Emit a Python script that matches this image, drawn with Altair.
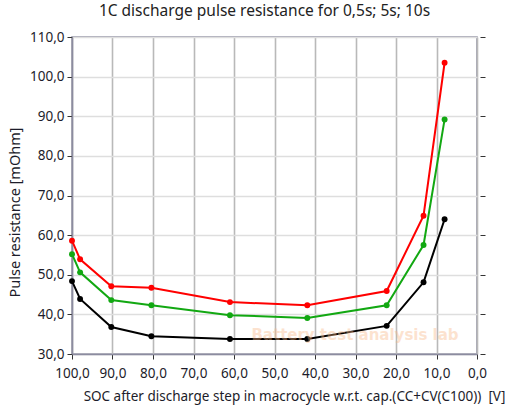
import altair as alt
import pandas as pd

# State of charge after each discharge step [%]
soc = [100.0, 98.0, 90.3, 80.4, 61.0, 41.9, 22.3, 13.2, 8.0]

# 1C discharge pulse resistance [mOhm] for three pulse durations
r_10s = [58.6, 53.9, 47.1, 46.7, 43.1, 42.3, 45.9, 64.9, 103.5]
r_5s = [55.2, 50.6, 43.6, 42.3, 39.8, 39.1, 42.3, 57.5, 89.2]
r_05s = [48.4, 43.9, 36.8, 34.5, 33.8, 33.8, 37.1, 48.1, 64.0]

series_names = ["10s", "5s", "0,5s"]
series_colors = ["#ff0000", "#12a812", "#000000"]

rows = []
for name, values in zip(series_names, [r_10s, r_5s, r_05s]):
    for s, r in zip(soc, values):
        rows.append({"soc": s, "r": r, "pulse": name})
df = pd.DataFrame(rows)

FONT = "Noto Sans"
TXT = "#1c1c2a"
comma_fmt = "replace(format(datum.value, '.1f'), '.', ',')"

x_enc = alt.X(
    "soc:Q",
    scale=alt.Scale(domain=[100, 0], nice=False),
    axis=alt.Axis(
        values=list(range(0, 101, 10)),
        labelExpr=comma_fmt,
        labelOverlap=False,
        labelFlush=False,
        title="SOC after discharge step in macrocycle w.r.t. cap.(CC+CV(C100))\u00a0\u00a0[V]",
        titleX=222,
        titleY=35,
        titleFontWeight="normal",
        titleFontSize=13.5,
        titleFont=FONT,
        titleColor=TXT,
        labelFont=FONT,
        labelFontSize=13.5,
        labelColor=TXT,
        labelPadding=7,
        grid=True,
        gridColor="#b9b9b9",
        gridWidth=1.6,
        domainColor="#8c8ca0",
        domainWidth=1.5,
        tickColor="#333333",
        tickSize=5,
    ),
)

y_scale = alt.Scale(domain=[30, 110], nice=False)

y_enc = alt.Y(
    "r:Q",
    scale=y_scale,
    axis=alt.Axis(
        values=list(range(30, 111, 10)),
        labelExpr=comma_fmt,
        labelOverlap=False,
        labelFlush=False,
        title="Pulse resistance [mOhm]",
        titleFontWeight="normal",
        titleFontSize=14.5,
        titleFont=FONT,
        titleColor=TXT,
        titleX=-50,
        titleY=175,
        labelFont=FONT,
        labelFontSize=13.5,
        labelColor=TXT,
        labelPadding=3,
        grid=True,
        gridColor="#dedede",
        gridWidth=1.5,
        domainColor="#8c8ca0",
        domainWidth=1.5,
        tickColor="#333333",
        tickSize=5,
    ),
)

color_enc = alt.Color(
    "pulse:N",
    scale=alt.Scale(domain=series_names, range=series_colors),
    legend=None,
)

lines = alt.Chart(df).mark_line(strokeWidth=2).encode(
    x=x_enc, y=y_enc, color=color_enc, detail="pulse:N"
)
points = alt.Chart(df).mark_circle(size=35, opacity=1).encode(
    x="soc:Q",
    y=alt.Y("r:Q", scale=y_scale, axis=None),
    color=color_enc,
)

# right-hand axis: tick marks only
right_axis = alt.Chart(df).mark_point(opacity=0).encode(
    x="soc:Q",
    y=alt.Y(
        "r:Q",
        scale=y_scale,
        axis=alt.Axis(
            orient="right",
            values=list(range(30, 111, 10)),
            labels=False,
            title=None,
            grid=False,
            tickColor="#333333",
            tickSize=5,
            offset=3,
            domain=False,
        ),
    ),
)

watermark = alt.Chart(pd.DataFrame({"t": ["Battery test analysis lab"]})).mark_text(
    font="DejaVu Sans",
    fontSize=15,
    fontWeight="bold",
    color="#f9b98a",
    opacity=0.4,
).encode(text="t:N", x=alt.value(283), y=alt.value(298))

chart = (
    alt.layer(lines, points, watermark, right_axis)
    .resolve_axis(y="independent")
    .resolve_scale(y="shared")
    .properties(
        width=405,
        height=317,
        autosize=alt.AutoSizeParams(type="none"),
        padding={"left": 72, "top": 37, "right": 37, "bottom": 51},
        title=alt.Title(
            "1C discharge pulse resistance for 0,5s; 5s; 10s",
            font=FONT,
            fontSize=15.5,
            fontWeight="normal",
            color="#222222",
            anchor="middle",
            dx=-10,
            offset=11,
        ),
        background="white",
    )
    .configure_view(stroke="#8c8ca0", strokeWidth=1.5)
)

chart.save("out.html", embed_options={"renderer": "svg", "actions": False})
